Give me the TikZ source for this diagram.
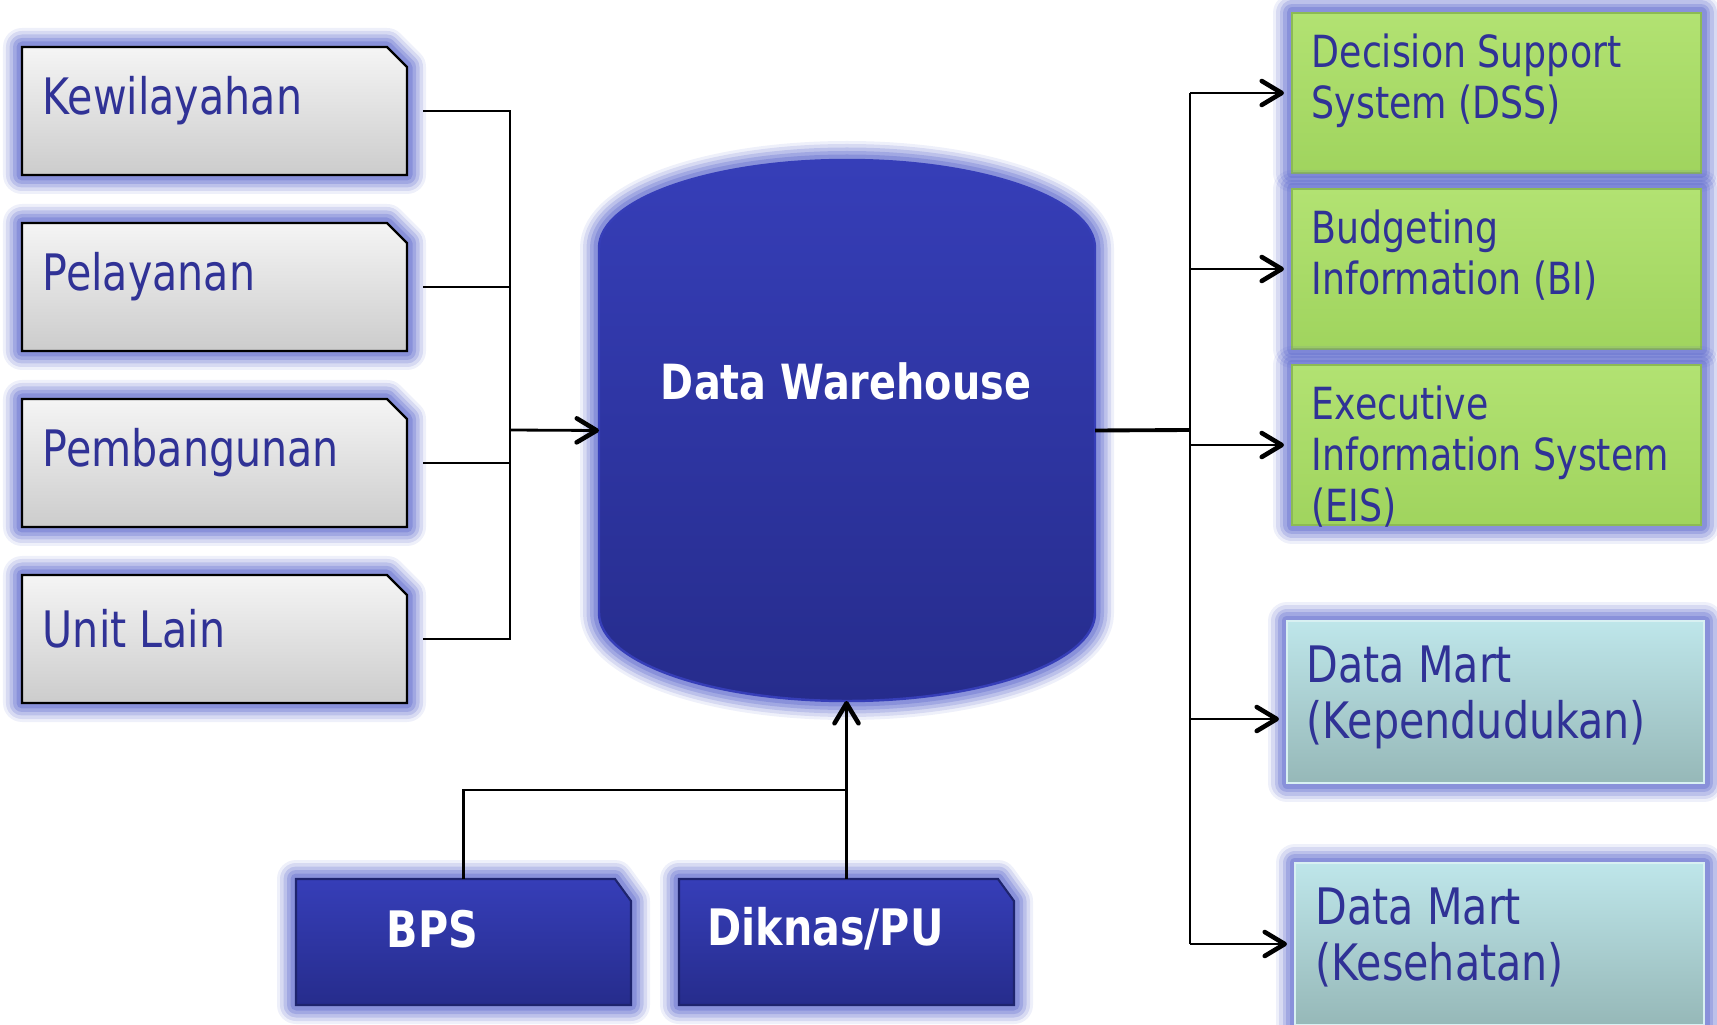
\documentclass[tikz,border=0pt]{standalone}
\usepackage{fontspec}
\setmainfont{DejaVu Sans}[FakeStretch=0.82]
\usetikzlibrary{positioning,arrows.meta}
\definecolor{inkblue}{RGB}{48,50,150}
\definecolor{glowblue}{RGB}{92,104,204}
\definecolor{navytop}{RGB}{54,62,184}
\definecolor{navybot}{RGB}{38,44,140}
\definecolor{navyline}{RGB}{30,36,110}
\definecolor{leaftop}{RGB}{178,226,114}
\definecolor{leafbot}{RGB}{160,212,94}
\definecolor{leafline}{RGB}{140,186,84}
\definecolor{icetop}{RGB}{190,230,234}
\definecolor{icebot}{RGB}{150,184,184}
\tikzset{
  glow/.style={preaction={draw=glowblue,line width=0.38cm,opacity=0.10,line join=round},
    preaction={draw=glowblue,line width=0.32cm,opacity=0.16,line join=round},
    preaction={draw=glowblue,line width=0.25cm,opacity=0.22,line join=round},
    preaction={draw=glowblue,line width=0.18cm,opacity=0.28,line join=round},
    preaction={draw=glowblue,line width=0.11cm,opacity=0.35,line join=round}},
  slot/.style={rectangle,inner sep=0,outer sep=0},
  srcbox/.style={slot,minimum width=3.85cm,minimum height=1.28cm},
  srcface/.style={glow,draw=black,line width=0.7pt,top color=gray!8,bottom color=gray!40},
  srctext/.style={anchor=west,inner sep=0,text=inkblue,font=\fontsize{14.3}{17}\selectfont},
  appbox/.style={slot,glow,draw=leafline,line width=0.5pt,top color=leaftop,
    bottom color=leafbot,minimum width=4.09cm,minimum height=1.60cm},
  apptext/.style={anchor=north west,inner sep=0,align=left,text=inkblue,
    font=\fontsize{12.6}{14.6}\selectfont},
  martbox/.style={slot,glow,draw=icetop!60!white,line width=0.6pt,top color=icetop,
    bottom color=icebot,minimum width=4.17cm,minimum height=1.62cm},
  marttext/.style={anchor=north west,inner sep=0,align=left,text=inkblue,
    font=\fontsize{14.3}{15.9}\selectfont},
  feedbox/.style={slot,minimum width=3.35cm,minimum height=1.26cm},
  feedface/.style={glow,draw=navyline,line width=0.6pt,top color=navytop,bottom color=navybot},
  feedtext/.style={inner sep=0,text=white,font=\bfseries\fontsize{14.3}{17}\selectfont},
  link/.style={draw=black,line width=0.8pt},
  arrow/.style={link,-{Straight Barb[length=0.2cm,width=0.24cm,line width=1.3pt,round]}}
}
\begin{document}
\begin{tikzpicture}[scale=1.0]
\useasboundingbox (0,0) rectangle (17.17,10.24);
\node[srcbox] (kew) at (2.145,9.13) {};
\node[srcbox,below=0.48cm of kew] (pel) {};
\node[srcbox,below=0.48cm of pel] (pem) {};
\node[srcbox,below=0.48cm of pem] (uni) {};
\coordinate (jl) at (5.10,5.94);
\foreach \n/\t in {kew/Kewilayahan,pel/Pelayanan,pem/Pembangunan,uni/Unit Lain}{
  \path[srcface] (\n.south west) -- (\n.north west) -- ([xshift=-0.2cm]\n.north east)
    -- ([yshift=-0.2cm]\n.north east) -- (\n.south east) -- cycle;
  \node[srctext] (\n t) at ([xshift=0.2cm,yshift=0.10cm]\n.west) {\t};
  \draw[link] ([xshift=0.16cm]\n.east) -| (jl);
}
\path[glow,draw=navytop,line width=0.7pt,top color=navytop,bottom color=navybot]
  (5.99,7.76) arc[start angle=180,end angle=0,x radius=2.48cm,y radius=0.88cm]
  -- (10.95,4.11) arc[start angle=0,end angle=-180,x radius=2.48cm,y radius=0.88cm] -- cycle;
\node[slot,minimum width=4.96cm,minimum height=5.41cm] (dw) at (8.47,5.935) {};
\node[feedtext,font=\bfseries\fontsize{13.8}{16}\selectfont] (dwt) at (8.46,6.43) {Data Warehouse};
\draw[arrow] (jl) -- (dw.west);
\node[appbox] (dss) at (14.965,9.31) {};
\node[appbox,below=0.16cm of dss] (bi) {};
\node[appbox,below=0.16cm of bi] (eis) {};
\node[martbox] (dmk) at (14.955,3.22) {};
\node[martbox,minimum width=4.09cm] (dmh) at (14.995,0.80) {};
\node[apptext] (dsst) at ([xshift=0.19cm,yshift=-0.2cm]dss.north west) {Decision Support\\System (DSS)};
\node[apptext] (bit) at ([xshift=0.19cm,yshift=-0.2cm]bi.north west) {Budgeting\\Information (BI)};
\node[apptext] (eist) at ([xshift=0.19cm,yshift=-0.2cm]eis.north west) {Executive\\Information System\\(EIS)};
\node[marttext] (dmkt) at ([xshift=0.19cm,yshift=-0.24cm]dmk.north west) {Data Mart\\(Kependudukan)};
\node[marttext] (dmht) at ([xshift=0.2cm,yshift=-0.24cm]dmh.north west) {Data Mart\\(Kesehatan)};
\coordinate (jr) at (11.90,5.94);
\coordinate (dmkin) at ([yshift=-0.17cm]dmk.west);
\draw[link,line width=1.1pt] (dw.east) -- (jr);
\draw[link] (jr |- dss.west) -- (jr |- dmh.west);
\foreach \n in {dss,bi,eis,dmkin,dmh}
  \draw[arrow] (jr |- \n.west) -- ([xshift=-0.08cm]\n.west);
\node[feedbox] (bps) at (4.635,0.82) {};
\node[feedbox,right=0.48cm of bps] (dik) {};
\foreach \n in {bps,dik}
  \path[feedface] (\n.south west) -- (\n.north west) -- ([xshift=-0.16cm]\n.north east)
    -- ([yshift=-0.22cm]\n.north east) -- (\n.south east) -- cycle;
\node[feedtext] (bpst) at ([xshift=-0.31cm,yshift=0.13cm]bps.center) {BPS};
\node[feedtext] (dikt) at ([xshift=-0.21cm,yshift=0.13cm]dik.center) {Diknas/PU};
\coordinate (jb) at ([yshift=0.89cm]dik.north);
\draw[link] (bps.north) |- (jb);
\draw[link] (dik.north) -- (jb);
\draw[arrow] (jb) -- (jb |- dw.south);
\end{tikzpicture}
\end{document}
